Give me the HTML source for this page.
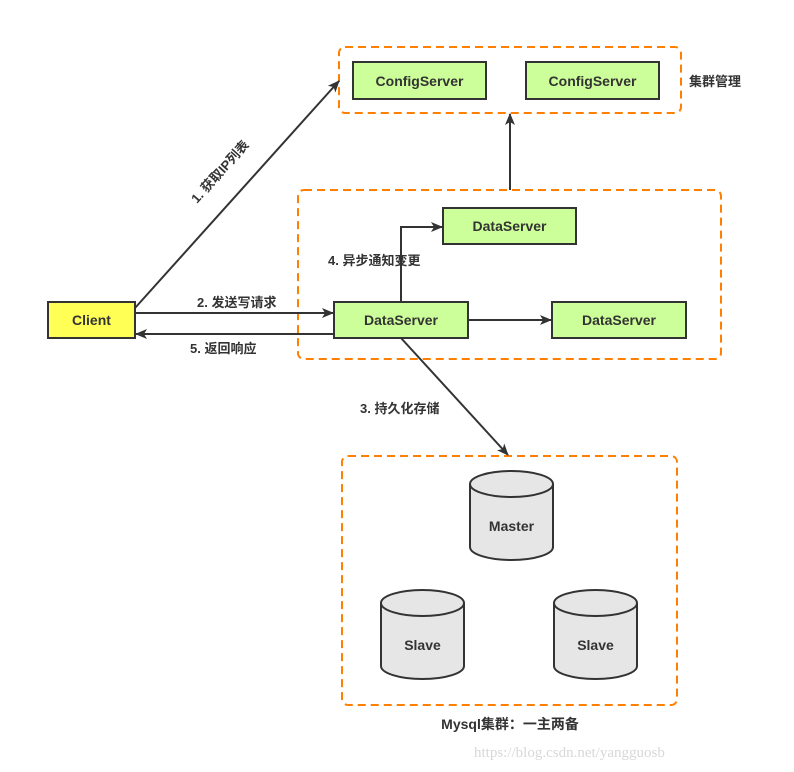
<!DOCTYPE html>
<html><head><meta charset="utf-8"><style>
html,body{margin:0;padding:0;background:#fff;}
svg{display:block;}
text{font-family:"Liberation Sans","Noto Sans CJK SC",sans-serif;font-weight:bold;fill:#333;}
</style></head><body>
<svg width="794" height="772" viewBox="0 0 794 772" xmlns="http://www.w3.org/2000/svg">
<defs>
<marker id="a" markerWidth="12" markerHeight="10" refX="11" refY="5" orient="auto" markerUnits="userSpaceOnUse">
<path d="M0,0 L12,5 L0,10 L3,5 Z" fill="#333"/>
</marker>
</defs>
<g fill="none" stroke="#ff8000" stroke-width="2" stroke-dasharray="8,5">
<rect x="339" y="47" width="342" height="66" rx="6"/>
<rect x="298" y="190" width="423" height="169" rx="6"/>
<rect x="342" y="456" width="335" height="249" rx="6"/>
</g>
<g stroke="#333" stroke-width="2">
<rect x="353" y="62" width="133" height="37" fill="#ccff99"/>
<rect x="526" y="62" width="133" height="37" fill="#ccff99"/>
<rect x="443" y="208" width="133" height="36" fill="#ccff99"/>
<rect x="334" y="302" width="134" height="36" fill="#ccff99"/>
<rect x="552" y="302" width="134" height="36" fill="#ccff99"/>
<rect x="48" y="302" width="87" height="36" fill="#ffff55"/>
</g>
<g stroke="#333" stroke-width="2" fill="none">
<line x1="510" y1="190" x2="510" y2="114" marker-end="url(#a)"/>
<line x1="135" y1="308" x2="339" y2="81" marker-end="url(#a)"/>
<line x1="135" y1="313" x2="333" y2="313" marker-end="url(#a)"/>
<line x1="334" y1="334" x2="136" y2="334" marker-end="url(#a)"/>
<polyline points="401,302 401,227 442,227" marker-end="url(#a)"/>
<line x1="468" y1="320" x2="551" y2="320" marker-end="url(#a)"/>
<line x1="401" y1="338" x2="508" y2="455" marker-end="url(#a)"/>
</g>
<g stroke="#333" stroke-width="2" fill="#e6e6e6">
<path d="M470,484 L470,547 A41.5,13 0 0 0 553,547 L553,484"/>
<ellipse cx="511.5" cy="484" rx="41.5" ry="13"/>
<path d="M381,603 L381,666 A41.5,13 0 0 0 464,666 L464,603"/>
<ellipse cx="422.5" cy="603" rx="41.5" ry="13"/>
<path d="M554,603 L554,666 A41.5,13 0 0 0 637,666 L637,603"/>
<ellipse cx="595.5" cy="603" rx="41.5" ry="13"/>
</g>
<g font-size="14" text-anchor="middle">
<text x="419.5" y="86">ConfigServer</text>
<text x="592.5" y="86">ConfigServer</text>
<text x="509.5" y="231">DataServer</text>
<text x="401" y="325">DataServer</text>
<text x="619" y="325">DataServer</text>
<text x="91.5" y="325">Client</text>
<text x="511.5" y="531">Master</text>
<text x="422.5" y="650">Slave</text>
<text x="595.5" y="650">Slave</text>
<text x="510" y="729">Mysql集群：一主两备</text>
</g>
<g font-size="13">
<text x="689" y="86">集群管理</text>
<text x="197" y="307">2. 发送写请求</text>
<text x="190" y="353">5. 返回响应</text>
<text x="328" y="265">4. 异步通知变更</text>
<text x="360" y="413">3. 持久化存储</text>
<text x="0" y="0" transform="translate(197,204) rotate(-48)">1. 获取IP列表</text>
</g>
<text x="474" y="757" font-size="15" style="font-family:'Liberation Serif',serif;font-weight:normal;fill:#d8d8d8">https://blog.csdn.net/yangguosb</text>
</svg>
</body></html>
